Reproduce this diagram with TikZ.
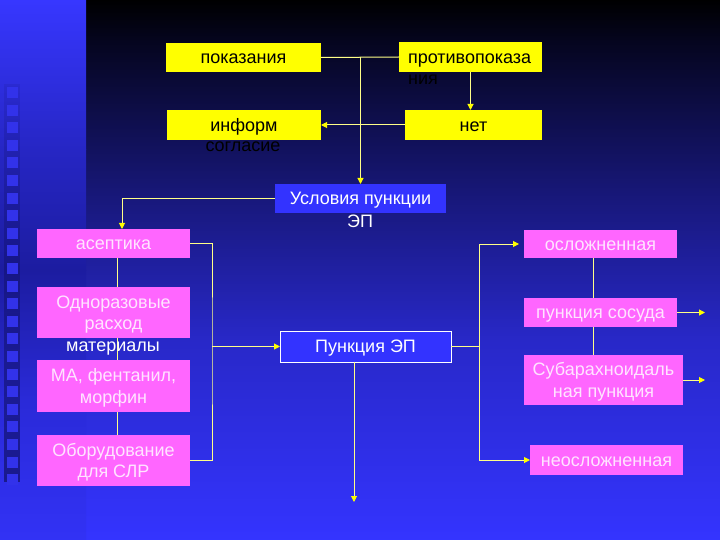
\documentclass[tikz,border=0pt]{standalone}
\usepackage{fontspec}
\setmainfont{Liberation Sans}
\usetikzlibrary{arrows.meta,calc,fadings}
\definecolor{pinkbox}{HTML}{FF66FF}
\definecolor{pinktext}{HTML}{FFE4FF}
\definecolor{yelbox}{HTML}{FFFF00}
\definecolor{bluebox}{HTML}{3333FF}
\definecolor{linecol}{HTML}{FFFF88}
\definecolor{tipcol}{HTML}{FFFF00}
\definecolor{bgA}{HTML}{000000}
\definecolor{bgB}{HTML}{05051E}
\definecolor{bgC}{HTML}{18187C}
\definecolor{bgD}{HTML}{2828C8}
\definecolor{bgE}{HTML}{3434FF}
\definecolor{stA}{HTML}{3737FF}
\definecolor{stB}{HTML}{2626C4}
\definecolor{stC}{HTML}{1C1CA0}
\definecolor{stE}{HTML}{2A2AD8}
\definecolor{stF}{HTML}{3232F5}
\definecolor{stDark}{HTML}{08083A}
\definecolor{sqcol}{HTML}{3232EA}
\definecolor{sqgap}{HTML}{0C0C50}
\tikzfading[name=midfade, top color=transparent!100, middle color=transparent!5, bottom color=transparent!100]
\tikzfading[name=topfade, top color=transparent!85, bottom color=transparent!0]
\newcommand\Tst{\rule{0pt}{16.3pt}}
\newcommand\Bst{\rule[-3.8pt]{0pt}{3.8pt}}
\begin{document}
\begin{tikzpicture}[x=1pt,y=-1pt,
  basefont/.style={font=\fontsize{18}{21.5}\selectfont},
  boxbase/.style={basefont, inner sep=0pt, outer sep=0pt, align=center},
  ybox/.style={boxbase, fill=yelbox, text=black},
  pbox/.style={boxbase, fill=pinkbox, text=pinktext},
  bbox/.style={boxbase, fill=bluebox, text=white},
  spill/.style={basefont, inner sep=0pt},
  ln/.style={draw=linecol, line width=1pt},
  arr/.style={ln, -{Triangle[length=6pt,width=6pt,color=tipcol]}}]
\useasboundingbox (0,0) rectangle (720,540);
% background main area
\shade[top color=bgA, bottom color=bgB] (86,0) rectangle (720,40);
\shade[top color=bgB, bottom color=bgC] (86,40) rectangle (720,200);
\shade[top color=bgC, bottom color=bgD] (86,200) rectangle (720,340);
\shade[top color=bgD, bottom color=bgE] (86,340) rectangle (720,540);
% left strip
\shade[top color=stA, bottom color=stB] (0,0) rectangle (86,150);
\shade[top color=stB, bottom color=stC] (0,150) rectangle (86,270);
\shade[top color=stC, bottom color=stE] (0,270) rectangle (86,400);
\shade[top color=stE, bottom color=stF] (0,400) rectangle (86,540);
\fill[stDark, path fading=midfade] (22,110) rectangle (86,440);
% squares column
\fill[sqgap, opacity=0.6, path fading=topfade] (4,84) rectangle (20,482);
\foreach \i in {0,...,22} {
  \fill[sqcol] (6.5,87+17.6*\i) rectangle (17.5,98+17.6*\i);
}
% nodes
\node[ybox, minimum width=155pt, minimum height=29pt] (pok) at (243.5,57.5) {\Tst показания\Bst};
\node[ybox, minimum width=143pt, minimum height=30pt, text width=125pt, align=left] (prot) at (470.5,57) {\Tst противопоказа\Bst};
\node[spill, text=black, anchor=west] (prot2) at (408,78.5) {\Tst ния\Bst};
\node[ybox, minimum width=154pt, minimum height=30pt] (inf) at (244,125) {\Tst информ\Bst};
\node[spill, text=black] (inf2) at (243,145.5) {\Tst согласие\Bst};
\node[ybox, minimum width=137pt, minimum height=30pt] (net) at (473.5,125) {\Tst нет\Bst};
\node[bbox, minimum width=171pt, minimum height=29pt] (usl) at (360.5,198.5) {\Tst Условия пункции\Bst};
\node[spill, text=white] (usl2) at (360,221) {\Tst ЭП\Bst};
\node[pbox, minimum width=153pt, minimum height=29pt] (asep) at (113.5,243.5) {\Tst асептика\Bst};
\node[pbox, minimum width=153pt, minimum height=51pt] (odn) at (113.5,312.5) {\Tst Одноразовые\\расход\Bst};
\node[pbox, minimum width=153pt, minimum height=52pt] (ma) at (113.5,386) {\Tst МА, фентанил,\\морфин\Bst};
\node[pbox, minimum width=153pt, minimum height=51pt] (obo) at (113.5,460.5) {\Tst Оборудование\\для СЛР\Bst};
\node[bbox, draw=white, line width=1pt, minimum width=171pt, minimum height=31pt] (pun) at (365.5,346.5) {\Tst Пункция ЭП\Bst};
\node[pbox, minimum width=153pt, minimum height=28pt] (osl) at (600.5,244) {\Tst осложненная\Bst};
\node[pbox, minimum width=153pt, minimum height=29pt] (sos) at (600.5,312.5) {\Tst пункция сосуда\Bst};
\node[pbox, minimum width=159pt, minimum height=50pt] (sub) at (603.5,380) {\Tst Субарахноидаль\\ная пункция\Bst};
\node[pbox, minimum width=153pt, minimum height=30pt] (neo) at (606.5,460) {\Tst неосложненная\Bst};
% coordinates for routing
\coordinate (lv) at (117,0);
\coordinate (lb) at (212,350);
\coordinate (rb) at (479,348);
\coordinate (rv) at (593,0);
\coordinate (punend) at (354,502);
\coordinate (rend) at (705,0);
% top connectors
\draw[ln] (pok.east) -- (prot.west);
\draw[arr] (usl.north |- pok.east) -- (usl.north);
\draw[arr] (prot.south) -- (prot.south |- net.north);
\draw[arr] (net.west) -- (inf.east);
\draw[arr] (usl.west) -| ([xshift=8.5pt]asep.north);
% left column
\draw[ln] (lv |- asep.south) -- (lv |- odn.north);
\draw[ln] (lv |- odn.south) -- (lv |- ma.north);
\draw[ln] (lv |- ma.south) -- (lv |- obo.north);
\draw[ln] (asep.east) -| (lb) |- (obo.east);
\draw[arr] (lb |- pun.west) -- (pun.west);
\node[spill, text=white] (odn2) at (113,345.5) {\Tst материалы\Bst};
% from puncture
\draw[arr] (punend |- pun.south) -- (punend);
\draw[ln] (pun.east) -- (rb |- pun.east);
\draw[ln] (rb |- osl.west) -- (rb |- neo.west);
\draw[arr] (rb |- osl.west) -- ([xshift=-5pt]osl.west);
\draw[arr] (rb |- neo.west) -- (neo.west);
% right column
\draw[ln] (rv |- osl.south) -- (rv |- sos.north);
\draw[ln] (rv |- sos.south) -- (rv |- sub.north);
\draw[arr] (sos.east) -- (rend |- sos.east);
\draw[arr] (sub.east) -- (rend |- sub.east);
\end{tikzpicture}
\end{document}
